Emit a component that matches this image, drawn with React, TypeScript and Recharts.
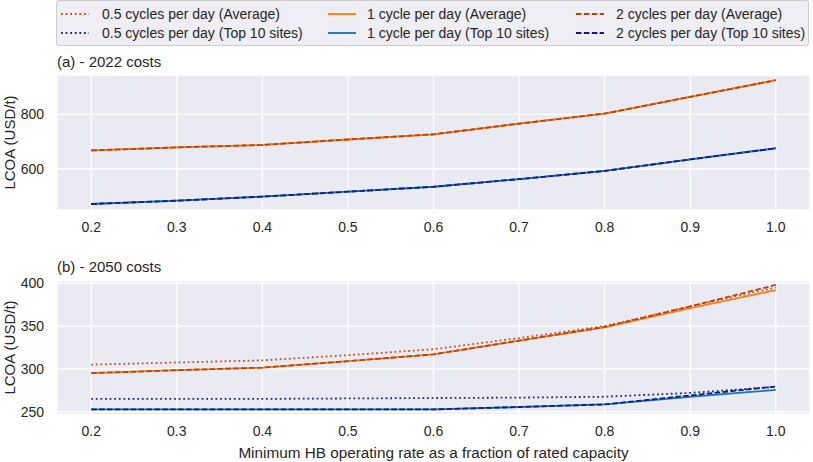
import { LineChart, Line, XAxis, YAxis, CartesianGrid, Label } from "recharts";

// x: minimum HB operating rate (fraction of rated capacity)
const rates = [0.2, 0.3, 0.4, 0.5, 0.6, 0.7, 0.8, 0.9, 1.0];
const xTicks = [0.2, 0.3, 0.4, 0.5, 0.6, 0.7, 0.8, 0.9, 1.0];

// (a) 2022 costs, LCOA in USD/t
const avg05_2022 = [668, 679, 688, 708, 727, 766, 803, 864, 925];
const avg1_2022 = [668, 679, 688, 708, 727, 766, 803, 864, 925];
const avg2_2022 = [668, 679, 688, 708, 727, 766, 803, 864, 925];
const top05_2022 = [472, 484, 499, 517, 535, 563, 593, 635, 676];
const top1_2022 = [472, 484, 499, 517, 535, 563, 593, 635, 676];
const top2_2022 = [472, 484, 499, 517, 535, 563, 593, 635, 676];

// (b) 2050 costs
const avg05_2050 = [305, 307.5, 310, 316, 323, 336, 350, 373, 395];
const avg1_2050 = [295, 298.5, 301.5, 309, 317, 333, 348.5, 371, 392];
const avg2_2050 = [295, 298.5, 301.5, 309, 317, 333, 349, 373, 398];
const top05_2050 = [265, 265, 265, 265.5, 266, 266.5, 267.5, 272, 279];
const top1_2050 = [252.7, 252.7, 252.7, 252.7, 252.7, 255.5, 258.5, 267.5, 275.5];
const top2_2050 = [252.7, 252.7, 252.7, 252.7, 252.7, 255.5, 258.5, 269, 279.5];

const yTicks2022 = [600, 800];
const yTicks2050 = [250, 300, 350, 400];

const FONT = "'Liberation Sans', Arial, sans-serif";
const INK = "#262626";

const series = [
  { key: "avg05", name: "0.5 cycles per day (Average)", color: "#C9501C", dash: "1.8 2.8" },
  { key: "top05", name: "0.5 cycles per day (Top 10 sites)", color: "#1B2A8E", dash: "1.8 2.8" },
  { key: "avg1", name: "1 cycle per day (Average)", color: "#FF7F0E", dash: undefined },
  { key: "top1", name: "1 cycle per day (Top 10 sites)", color: "#1F77B4", dash: undefined },
  { key: "avg2", name: "2 cycles per day (Average)", color: "#B8450F", dash: "5.5 2.4" },
  { key: "top2", name: "2 cycles per day (Top 10 sites)", color: "#0E1F80", dash: "5.5 2.4" },
];

function rows(cols: Record<string, number[]>) {
  return rates.map((x, i) => {
    const r: Record<string, number> = { x };
    Object.keys(cols).forEach((k) => (r[k] = cols[k][i]));
    return r;
  });
}

const data2022 = rows({
  avg05: avg05_2022, top05: top05_2022, avg1: avg1_2022,
  top1: top1_2022, avg2: avg2_2022, top2: top2_2022,
});
const data2050 = rows({
  avg05: avg05_2050, top05: top05_2050, avg1: avg1_2050,
  top1: top1_2050, avg2: avg2_2050, top2: top2_2050,
});

const tickStyle = { fill: INK, fontSize: 14, fontFamily: FONT };

function YLabel({ cy }: { cy: number }) {
  return (
    <text
      x={9}
      y={cy}
      transform={`rotate(-90 9 ${cy})`}
      textAnchor="middle"
      dominantBaseline="central"
      fill={INK}
      fontSize={15}
      fontFamily={FONT}
    >
      LCOA (USD/t)
    </text>
  );
}

function Panel({
  data, domain, yTicks, top, height, mTop, xH, cy, xLabel,
}: {
  data: Record<string, number>[];
  domain: [number, number];
  yTicks: number[];
  top: number;
  height: number;
  mTop: number;
  xH: number;
  cy: number;
  xLabel?: boolean;
}) {
  return (
    <div style={{ position: "absolute", left: 0, top, width: 813, height }}>
      <LineChart width={813} height={height} data={data} margin={{ top: mTop, right: 3, bottom: 0, left: 0 }}>
        <CartesianGrid fill="#EAEAF2" fillOpacity={1} stroke="#FFFFFF" strokeWidth={1.3} />
        <XAxis
          dataKey="x"
          type="number"
          domain={[0.16, 1.04]}
          ticks={xTicks}
          tickFormatter={(v: number) => v.toFixed(1)}
          axisLine={false}
          tickLine={false}
          tickSize={0}
          tickMargin={12}
          height={xH}
          tick={tickStyle}
          allowDataOverflow
        >
          {xLabel && (
            <Label
              content={() => (
                <text x={433.5} y={202} textAnchor="middle" dominantBaseline="central" fill={INK} fontSize={15.3} fontFamily={FONT}>
                  Minimum HB operating rate as a fraction of rated capacity
                </text>
              )}
            />
          )}
        </XAxis>
        <YAxis
          type="number"
          domain={domain}
          ticks={yTicks}
          axisLine={false}
          tickLine={false}
          tickSize={0}
          tickMargin={13}
          width={57}
          tick={tickStyle}
          allowDataOverflow
        >
          <Label content={() => <YLabel cy={cy} />} />
        </YAxis>
        {series.map((s) => (
          <Line
            key={s.key}
            dataKey={s.key}
            name={s.name}
            type="linear"
            stroke={s.color}
            strokeWidth={1.8}
            strokeDasharray={s.dash}
            strokeLinecap="butt"
            dot={false}
            activeDot={false}
            isAnimationActive={false}
          />
        ))}
      </LineChart>
    </div>
  );
}

function LegendBox() {
  const cols = [
    { sx: 61, tx: 102 },
    { sx: 328, tx: 367 },
    { sx: 576, tx: 616 },
  ];
  return (
    <div
      style={{
        position: "absolute",
        left: 56,
        top: 0,
        width: 753,
        height: 46,
        boxSizing: "border-box",
        border: "1px solid #CCCCCC",
        borderRadius: 3,
        background: "#EEEEF4",
      }}
    >
      <svg width={753} height={46} style={{ position: "absolute", left: -1, top: -1 }}>
        {series.map((s, i) => {
          const c = cols[Math.floor(i / 2)];
          const y = i % 2 === 0 ? 14 : 33;
          return (
            <g key={s.key}>
              <line
                x1={c.sx - 56}
                x2={c.sx - 56 + 28}
                y1={y}
                y2={y}
                stroke={s.color}
                strokeWidth={1.9}
                strokeDasharray={s.dash}
              />
              <text x={c.tx - 56} y={y} dominantBaseline="central" fill={INK} fontSize={14} fontFamily={FONT}>
                {s.name}
              </text>
            </g>
          );
        })}
      </svg>
    </div>
  );
}

function Title({ text, y }: { text: string; y: number }) {
  return (
    <div
      style={{
        position: "absolute",
        left: 57,
        top: y - 9,
        height: 18,
        lineHeight: "18px",
        fontFamily: FONT,
        fontSize: 15,
        color: INK,
        whiteSpace: "nowrap",
      }}
    >
      {text}
    </div>
  );
}

export default function App() {
  return (
    <div style={{ position: "relative", width: 813, height: 462, background: "#fff", overflow: "hidden" }}>
      <style>{`body{margin:0}`}</style>
      <LegendBox />
      <Title text="(a) - 2022 costs" y={62} />
      <Panel data={data2022} domain={[450, 944]} yTicks={yTicks2022} top={0} height={240} mTop={75} xH={30} cy={142.5} />
      <Title text="(b) - 2050 costs" y={267} />
      <Panel data={data2050} domain={[247, 403]} yTicks={yTicks2050} top={250} height={212} mTop={30.7} xH={47.7} cy={97.5} xLabel />
    </div>
  );
}
